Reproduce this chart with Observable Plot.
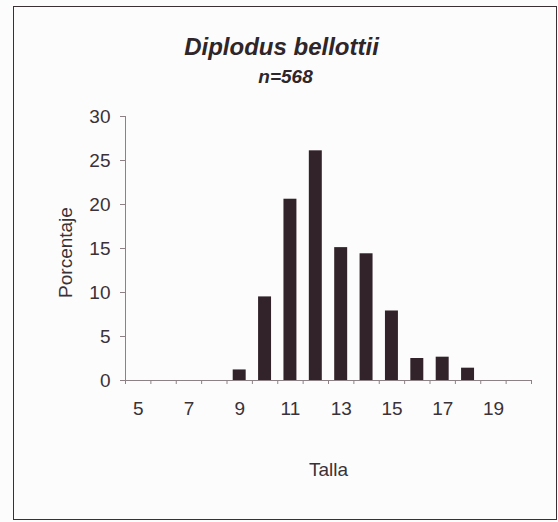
<!DOCTYPE html>
<html>
<head>
<meta charset="utf-8">
<script src="https://cdn.jsdelivr.net/npm/d3@7"></script>
<script src="https://cdn.jsdelivr.net/npm/@observablehq/plot@0.6"></script>
<style>
  html, body { margin: 0; padding: 0; background: #fdfcfd; }
  #wrap { position: relative; width: 558px; height: 522px; }
  #border { position: absolute; left: 13px; top: 6px; width: 542px; height: 512px;
            border: 1.5px solid #3a3034; pointer-events: none; }
</style>
</head>
<body>
<div id="wrap"><div id="border"></div></div>
<script>
const talla = [5, 6, 7, 8, 9, 10, 11, 12, 13, 14, 15, 16, 17, 18, 19, 20];
const porcentaje = [0, 0, 0, 0, 1.2, 9.5, 20.6, 26.1, 15.1, 14.4, 7.9, 2.5, 2.65, 1.4, 0, 0];
const xTickLabels = [5, 7, 9, 11, 13, 15, 17, 19];
const yTicks = [0, 5, 10, 15, 20, 25, 30];
const titulo = "Diplodus bellottii";
const subtitulo = "n=568";
const xTitulo = "Talla";
const yTitulo = "Porcentaje";

const data = talla.map((t, i) => ({talla: t, pct: porcentaje[i]}));
const bounds = [...talla.map(t => t - 0.5), talla[talla.length - 1] + 0.5];
const xDomain = [bounds[0], bounds[bounds.length - 1]];

const barColor = "#32232a";
const textColor = "#3a3236";
const axisColor = "#8c8286";

const chart = Plot.plot({
  width: 558,
  height: 522,
  marginLeft: 125,
  marginRight: 27,
  marginTop: 116,
  marginBottom: 142,
  style: {fontFamily: "'Liberation Sans', Arial, sans-serif", fontSize: "18px", color: textColor, background: "transparent", overflow: "visible"},
  x: {domain: xDomain},
  y: {domain: [0, 30]},
  marks: [
    Plot.rectY(data, {x1: d => d.talla - 0.5, x2: d => d.talla + 0.5, y: "pct", insetLeft: 6.2, insetRight: 6.2, fill: barColor}),
    Plot.ruleY([0], {stroke: axisColor, strokeWidth: 1}),
    Plot.ruleX([xDomain[0]], {y1: 0, y2: 30, stroke: axisColor, strokeWidth: 1}),
    Plot.axisY({ticks: yTicks, tickSize: 5, tickPadding: 10, label: null, stroke: axisColor, fill: textColor, fontSize: 19}),
    Plot.axisX({ticks: bounds, tickSize: 4, tickFormat: () => "", label: null, stroke: axisColor}),
    Plot.axisX({ticks: xTickLabels, tickSize: 0, tickPadding: 21, label: null, fill: textColor, fontSize: 19}),
    Plot.text([yTitulo], {frameAnchor: "left", textAnchor: "middle", rotate: -90, dx: -60, dy: 4, fontSize: 19, fill: textColor}),
    Plot.text([xTitulo], {frameAnchor: "bottom", lineAnchor: "top", dy: 82, fontSize: 19, fill: textColor}),
    Plot.text([titulo], {frameAnchor: "top", lineAnchor: "top", dx: -47, dy: -79, fontSize: 24, fontWeight: "bold", fontStyle: "italic", fill: "#2e2629"}),
    Plot.text([subtitulo], {frameAnchor: "top", lineAnchor: "top", dx: -43, dy: -47, fontSize: 19, fontWeight: "bold", fontStyle: "italic", fill: "#2e2629"})
  ]
});
document.getElementById("wrap").appendChild(chart);
chart.style.position = "absolute";
chart.style.left = "0";
chart.style.top = "0";
</script>
</body>
</html>
